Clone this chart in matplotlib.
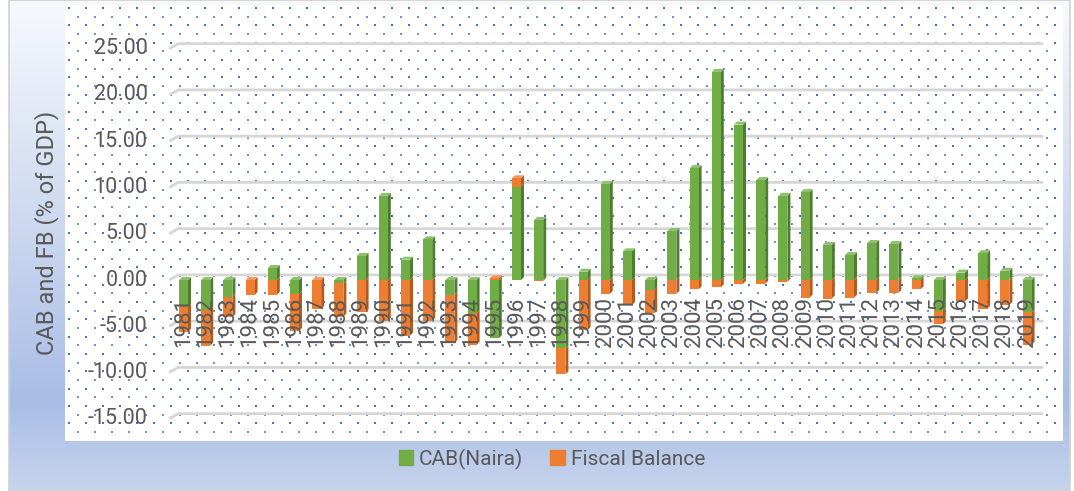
import numpy as np
import matplotlib
matplotlib.use("Agg")
import matplotlib.pyplot as plt
from matplotlib.patches import Polygon, Rectangle, Patch
from matplotlib.colors import to_rgb

# ---- data ----
years = list(range(1981, 2020))
cab = [-2.9, -3.2, -1.8, 0.0, 1.3, -1.5, 0.0, -0.35, 2.6, 9.1,
       2.2, 4.4, -1.6, -3.6, -6.3, 10.1, 6.5, -7.4, 0.9, 10.4,
       3.1, -1.1, 5.3, 12.1, 22.5, 16.8, 10.8, 9.1, 9.5, 3.8,
       2.7, 4.0, 3.9, 0.2, -3.3, 0.8, 2.9, 1.0, -3.5]
fiscal = [-2.7, -3.9, -2.2, -1.6, -1.6, -4.0, -3.1, -3.6, -3.5, -4.4,
          -6.0, -4.4, -5.2, -3.4, 0.2, 0.9, -0.1, -2.8, -5.4, -1.5,
          -2.7, -2.5, -1.5, -1.0, -0.8, -0.4, -0.4, -0.2, -1.9, -2.0,
          -1.9, -1.4, -1.4, -1.0, -1.5, -2.3, -3.1, -2.7, -3.5]
y_ticks = [-15, -10, -5, 0, 5, 10, 15, 20, 25]
series_names = ["CAB(Naira)", "Fiscal Balance"]

GREEN, GREEN_SIDE, GREEN_TOP = "#70AD47", "#4E7D30", "#8CC06B"
ORANGE, ORANGE_SIDE, ORANGE_TOP = "#ED7D31", "#B35A1F", "#F29A5E"
TEXT = "#595959"
FONT = "Roboto"

W, H = 1074, 491
fig = plt.figure(figsize=(W / 100, H / 100), dpi=100)

# ---- background (pixel coords) ----
bg = fig.add_axes([0, 0, 1, 1])
bg.set_xlim(0, W)
bg.set_ylim(H, 0)
bg.axis("off")

stops_y = [0, 120, 400, 491]
stops_c = [to_rgb("#F7F9FD"), to_rgb("#E0E8F5"), to_rgb("#A9BDE5"), to_rgb("#C6D4EC")]
yy = np.arange(H)
grad = np.stack([np.interp(yy, stops_y, [c[k] for c in stops_c]) for k in range(3)], axis=-1)
bg.imshow(grad[:, None, :], extent=(9, 1070, H, 0), aspect="auto", zorder=0)
bg.add_patch(Rectangle((9, 0), 1061, H - 1, fill=False, edgecolor="#D0D0D0", lw=1.2, zorder=1))

# plot area: white with dotted-grid pattern
px0, px1, py0, py1 = 65, 1063, 5, 441
bg.add_patch(Rectangle((px0, py0), px1 - px0, py1 - py0, facecolor="white",
                       edgecolor="none", zorder=2))
row_h, col_w = 8.65, 17.0
big_x, big_y, small_x, small_y = [], [], [], []
for r, y in enumerate(np.arange(py0 + 3, py1 - 1, row_h)):
    off = 0 if r % 2 == 0 else col_w / 2
    xs = np.arange(px0 + 4 + off, px1 - 1, col_w)
    if r % 2 == 0:
        big_x.extend(xs); big_y.extend([y] * len(xs))
    else:
        small_x.extend(xs); small_y.extend([y] * len(xs))
bg.scatter(big_x, big_y, s=3.4, marker="s", color="#4472C4", linewidths=0, zorder=3)
bg.scatter(small_x, small_y, s=1.8, marker="s", color="#6F92D3", linewidths=0, zorder=3)

bg.text(47, 233, "CAB and FB (% of GDP)", rotation=90, ha="center", va="center",
        fontsize=17, color=TEXT, family=FONT, zorder=4)

# ---- main axes: x = bar index, y = % of GDP ----
x0_px, x_step = 183.5, 22.2
zero_px, y_step = 280.0, 9.25
ax = fig.add_axes([px0 / W, (H - py1) / H, (px1 - px0) / W, (py1 - py0) / H])
ax.set_facecolor("none")
ax.set_xlim((px0 - x0_px) / x_step, (px1 - x0_px) / x_step)
ax.set_ylim((zero_px - py1) / y_step, (zero_px - py0) / y_step)
ax.axis("off")

# gridlines with a small 3D floor slant at the left
g_dy, g_dx = 0.55, 0.40
g_left, g_right = -0.64, 38.72
for v in y_ticks:
    ax.plot([g_left, g_left + g_dx, g_right], [v, v + g_dy, v + g_dy],
            color="#D6D6D6", lw=2.0, solid_capstyle="butt", zorder=1)
    ax.text(-1.62, v, f"{v:.2f}", ha="right", va="center", fontsize=15.5,
            color=TEXT, family=FONT, zorder=2)

x = np.arange(len(years))
cab_a = np.array(cab)
fb_a = np.array(fiscal)
fb_bottom = np.where(np.sign(cab_a) == np.sign(fb_a), cab_a, 0.0)

bw, dx, dy = 0.405, 0.135, 0.32
b1 = ax.bar(x, cab_a, width=bw, color=GREEN, zorder=4, label=series_names[0])
b2 = ax.bar(x, fb_a, width=bw, bottom=fb_bottom, color=ORANGE, zorder=4,
            label=series_names[1])


def side_face(xc, lo, hi, color):
    xr = xc + bw / 2
    ax.add_patch(Polygon([(xr, lo), (xr + dx, lo + dy), (xr + dx, hi + dy), (xr, hi)],
                         closed=True, facecolor=color, edgecolor="none", zorder=3))


def top_face(xc, top, color):
    xl, xr = xc - bw / 2, xc + bw / 2
    ax.add_patch(Polygon([(xl, top), (xl + dx, top + dy), (xr + dx, top + dy), (xr, top)],
                         closed=True, facecolor=color, edgecolor="none", zorder=3))


for i in range(len(years)):
    c, f, fb0 = cab_a[i], fb_a[i], fb_bottom[i]
    if c != 0:
        side_face(x[i], min(0, c), max(0, c), GREEN_SIDE)
    side_face(x[i], min(fb0, fb0 + f), max(fb0, fb0 + f), ORANGE_SIDE)
    # which segment owns the top of the column
    if f > 0:
        top_face(x[i], fb0 + f, ORANGE_TOP)
    elif c > 0:
        top_face(x[i], c, GREEN_TOP)
    elif c < 0:
        top_face(x[i], 0, GREEN_TOP)
    else:
        top_face(x[i], 0, ORANGE_TOP)

label_top = (zero_px - 297) / y_step
for i, yr in enumerate(years):
    ax.text(x[i], label_top, str(yr), rotation=90, ha="center", va="top",
            fontsize=16, color=TEXT, family=FONT, zorder=5)

bg.legend([Patch(color=GREEN), Patch(color=ORANGE)], series_names,
          loc="center", bbox_to_anchor=(552, 459), bbox_transform=bg.transData,
          ncol=2, frameon=False, handlelength=0.68, handleheight=0.68,
          handletextpad=0.3, columnspacing=1.3,
          prop={"family": FONT, "size": 15}, labelcolor=TEXT)

fig.savefig("out.png", dpi=100)
